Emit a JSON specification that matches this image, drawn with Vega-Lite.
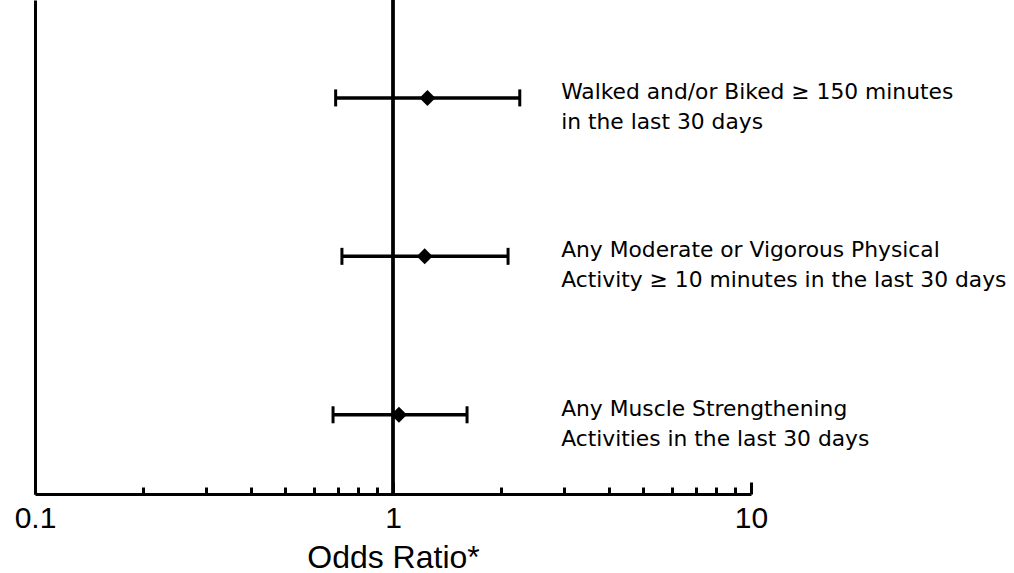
{
  "$schema": "https://vega.github.io/schema/vega-lite/v6.json",
  "width": 716,
  "height": 494,
  "autosize": "none",
  "padding": {"left": 35, "top": 0, "right": 263, "bottom": 79},
  "background": "white",
  "config": {
    "view": {"stroke": null},
    "font": "Liberation Sans"
  },
  "data": {
    "values": [
      {"row": 3, "or": 1.248, "lo": 0.6915, "hi": 2.26, "label": ["Walked and/or Biked \u2265 150 minutes", "in the last 30 days"]},
      {"row": 2, "or": 1.226, "lo": 0.72, "hi": 2.096, "label": ["Any Moderate or Vigorous Physical", "Activity \u2265 10 minutes in the last 30 days"]},
      {"row": 1, "or": 1.039, "lo": 0.68, "hi": 1.61, "label": ["Any Muscle Strengthening", "Activities in the last 30 days"]}
    ]
  },
  "encoding": {
    "y": {
      "field": "row",
      "type": "quantitative",
      "scale": {"domain": [0.5, 3.618], "nice": false, "zero": false},
      "axis": {"title": null, "labels": false, "ticks": false, "grid": false, "domain": true, "domainColor": "black", "domainWidth": 3}
    }
  },
  "layer": [
    {
      "mark": {"type": "rule", "color": "black", "strokeWidth": 3},
      "encoding": {
        "x": {
          "datum": 1,
          "type": "quantitative",
          "scale": {"type": "log", "domain": [0.1, 10], "nice": false},
          "axis": {
            "values": [0.1, 0.2, 0.3, 0.4, 0.5, 0.6, 0.7, 0.8, 0.9, 1, 2, 3, 4, 5, 6, 7, 8, 9, 10],
            "format": "~g",
            "labelExpr": "indexof([0.1, 1, 10], datum.value) >= 0 ? datum.label : ''",
            "labelFlush": false,
            "labelOverlap": false,
            "labelFontSize": 30,
            "labelColor": "black",
            "labelPadding": 21,
            "tickColor": "black",
            "tickWidth": 3,
            "tickSize": {"condition": {"test": "indexof([0.1, 1, 10], datum.value) >= 0", "value": -12}, "value": -7},
            "domainColor": "black",
            "domainWidth": 3,
            "grid": false,
            "title": "Odds Ratio*",
            "titleFontSize": 32,
            "titleFontWeight": "normal",
            "titleColor": "black",
            "titlePadding": 4
          }
        },
        "y": null
      }
    },
    {
      "mark": {"type": "rule", "color": "black", "strokeWidth": 3.5},
      "encoding": {
        "x": {"field": "lo", "type": "quantitative"},
        "x2": {"field": "hi"}
      }
    },
    {
      "mark": {"type": "tick", "color": "black", "orient": "vertical", "size": 17, "thickness": 3, "opacity": 1},
      "encoding": {
        "x": {"field": "lo", "type": "quantitative"}
      }
    },
    {
      "mark": {"type": "tick", "color": "black", "orient": "vertical", "size": 17, "thickness": 3, "opacity": 1},
      "encoding": {
        "x": {"field": "hi", "type": "quantitative"}
      }
    },
    {
      "mark": {"type": "point", "shape": "diamond", "size": 256, "filled": true, "color": "black", "opacity": 1},
      "encoding": {
        "x": {"field": "or", "type": "quantitative"}
      }
    },
    {
      "mark": {"type": "text", "align": "left", "baseline": "alphabetic", "font": "DejaVu Sans", "fontSize": 21.8, "lineHeight": 30, "dy": 1, "color": "black"},
      "encoding": {
        "x": {"datum": 2.949, "type": "quantitative"},
        "text": {"field": "label"}
      }
    }
  ]
}
